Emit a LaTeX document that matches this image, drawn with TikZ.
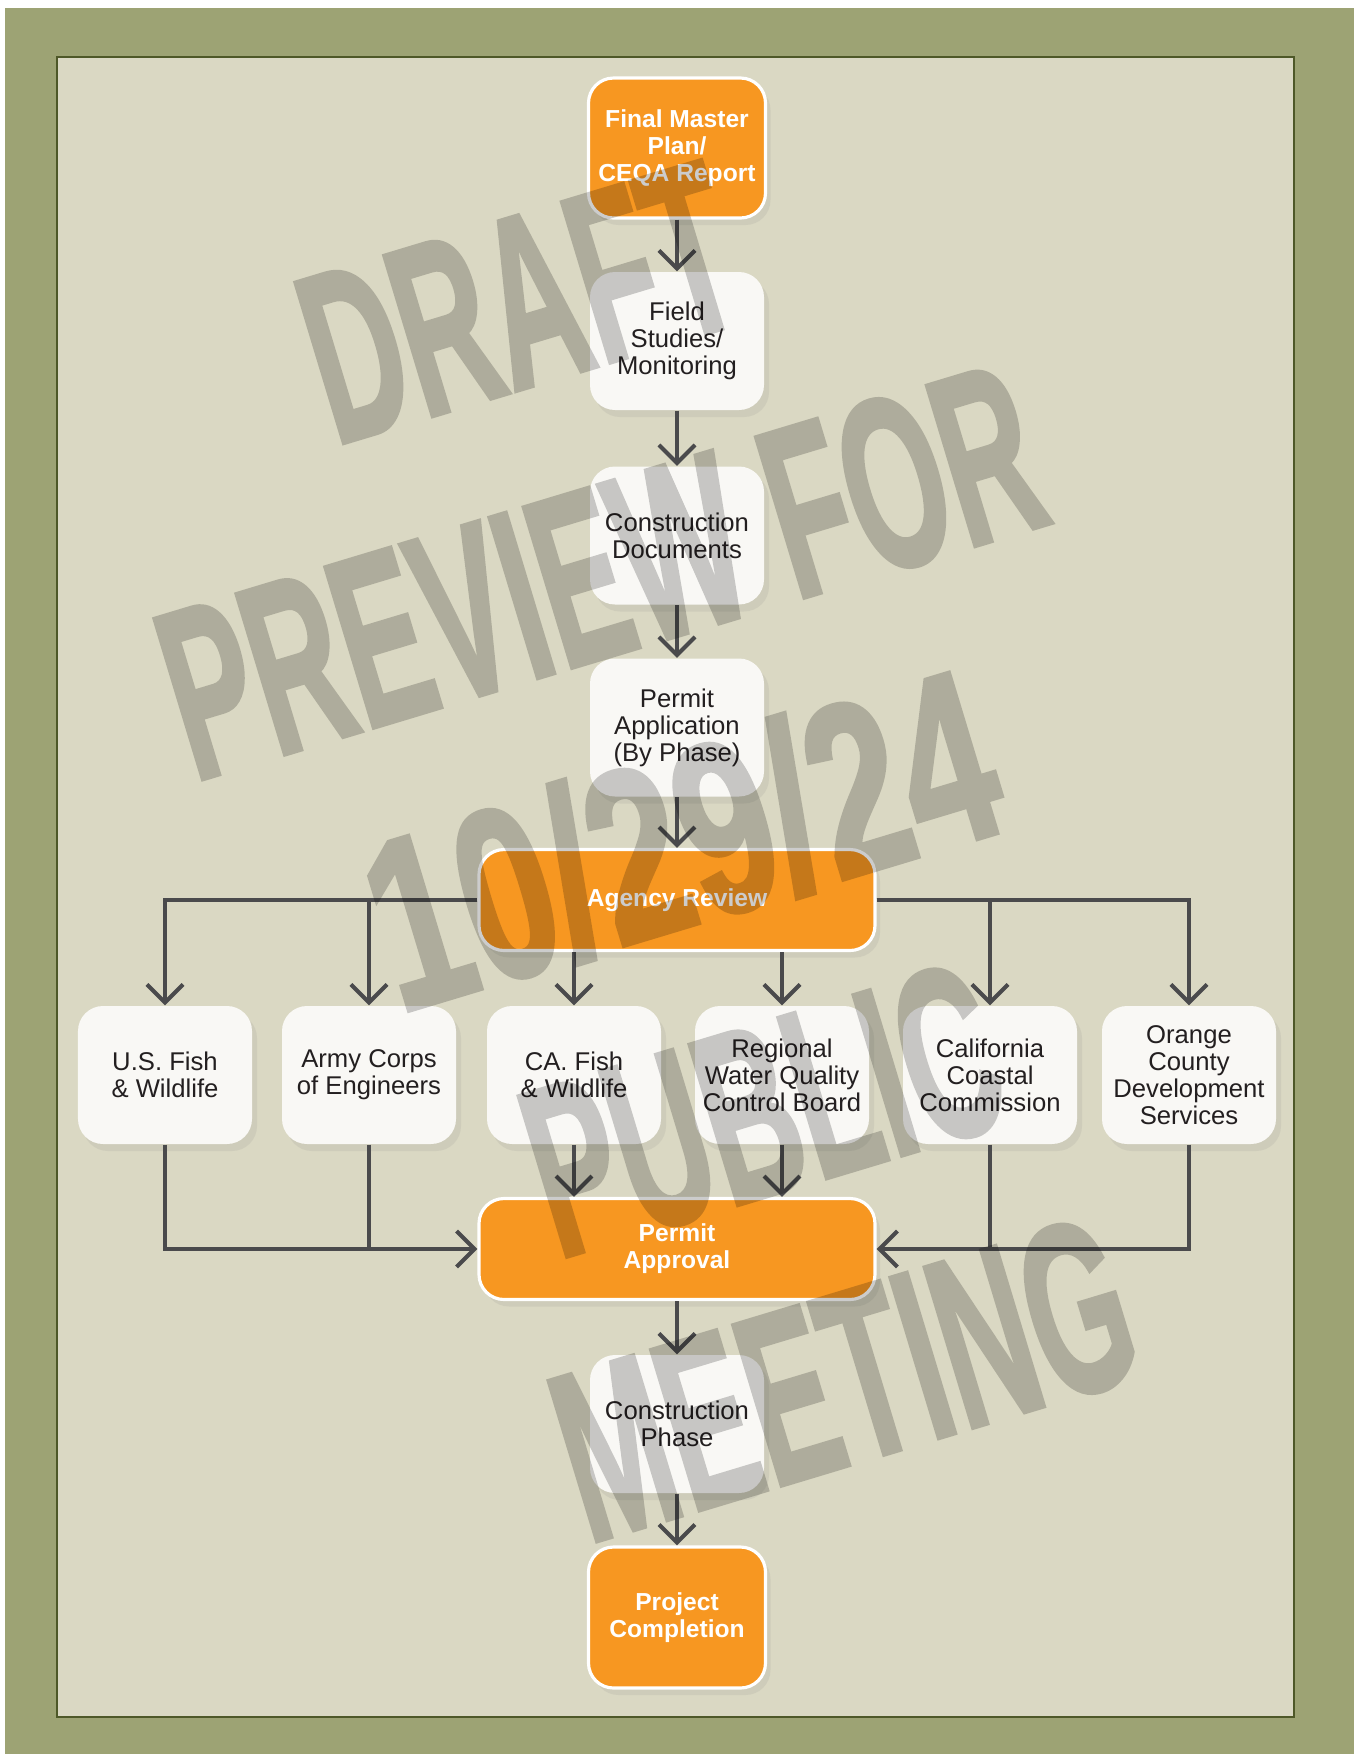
\documentclass[tikz,border=0pt]{standalone}
\usepackage{fontspec}
\setmainfont{Liberation Sans}
\newfontfamily\stampfont[BoldFeatures={FakeBold=2}]{Liberation Sans}
\usetikzlibrary{arrows.meta, calc, positioning, shadows}
\definecolor{oliveframe}{RGB}{157,163,116}
\definecolor{panelbeige}{RGB}{218,216,195}
\definecolor{panelline}{RGB}{78,88,40}
\definecolor{planorange}{RGB}{247,151,33}
\definecolor{boxwhite}{RGB}{249,248,245}
\definecolor{flowgray}{RGB}{74,74,76}
\definecolor{inkdark}{RGB}{35,31,32}
\newcommand{\narrowline}[2][0.53]{\scalebox{#1}[1]{#2}}

\begin{document}
\begin{tikzpicture}[
    stage/.style={rounded corners=2.5mm, inner sep=0pt, align=center,
        minimum width=1.74cm, minimum height=1.38cm,
        drop shadow={shadow xshift=0.5mm, shadow yshift=-0.7mm, opacity=0.13}},
    whitestage/.style={stage, fill=boxwhite, text=inkdark,
        font=\fontsize{7.3}{7.7}\selectfont},
    orangestage/.style={stage, fill=planorange, draw=white, line width=0.9pt,
        text=white, font=\fontsize{7}{7.7}\selectfont\bfseries},
    widestage/.style={orangestage, minimum width=3.96cm, minimum height=1.01cm},
    flow/.style={draw=flowgray, line width=1.15pt,
        -{Straight Barb[length=1.8mm, width=3.6mm]}},
    joint/.style={draw=flowgray, line width=1.15pt}
]
    % Frame and panel
    \fill[white] (0,0) rectangle (13.54,-17.54);
    \fill[oliveframe] (0.05,-0.08) rectangle (13.54,-17.54);
    \draw[panelline, line width=0.6pt, fill=panelbeige] (0.57,-0.57) rectangle (12.94,-17.17);
    \useasboundingbox (0,0) rectangle (13.54,-17.54);

    % Main column
    \node[orangestage, minimum width=1.77cm, minimum height=1.40cm] (master) at (6.77,-1.48) {Final Master\\Plan/\\CEQA Report};
    \node[whitestage] (field) at (6.77,-3.41) {Field\\Studies/\\Monitoring};
    \node[whitestage] (docs) at (6.77,-5.355) {Construction\\Documents};
    \node[whitestage] (application) at (6.77,-7.275) {Permit\\Application\\(By Phase)};
    \node[widestage] (review) at (6.77,-9.00) {Agency Review};

    % Agencies
    \node[whitestage] (usfish) at (1.65,-10.75) {U.S. Fish\\\& Wildlife};
    \node[whitestage] (army) at (3.69,-10.75) {Army Corps\\of Engineers};
    \node[whitestage] (cafish) at (5.74,-10.75) {CA. Fish\\\& Wildlife};
    \node[whitestage] (water) at (7.82,-10.75) {Regional\\Water Quality\\Control Board};
    \node[whitestage] (coastal) at (9.90,-10.75) {California\\Coastal\\Commission};
    \node[whitestage] (county) at (11.89,-10.75) {Orange\\County\\Development\\Services};

    \node[widestage] (approval) at (6.77,-12.49) {Permit\\Approval};
    \node[whitestage] (phase) at (6.77,-14.24) {Construction\\Phase};
    \node[orangestage, minimum width=1.77cm, minimum height=1.41cm] (completion) at (6.77,-16.175) {Project\\Completion};

    % Connectors
    \draw[flow] (master) -- (field);
    \draw[flow] (field) -- (docs);
    \draw[flow] (docs) -- (application);
    \draw[flow] (application) -- (review);
    \draw[flow] (review.west) -| (usfish.north);
    \draw[flow] (review.west) -| (army.north);
    \draw[flow] (review.south -| cafish) -- (cafish.north);
    \draw[flow] (review.south -| water) -- (water.north);
    \draw[flow] (review.east) -| (coastal.north);
    \draw[flow] (review.east) -| (county.north);
    \draw[flow] (cafish.south) -- (cafish.south |- approval.north);
    \draw[flow] (water.south) -- (water.south |- approval.north);
    \draw[flow] (usfish.south) |- (approval.west);
    \draw[joint] (army.south) -- (army.south |- approval.west);
    \draw[flow] (county.south) |- (approval.east);
    \draw[joint] (coastal.south) -- (coastal.south |- approval.east);
    \draw[flow] (approval) -- (phase);
    \draw[flow] (phase) -- (completion);

    % Watermark
    \begin{scope}[transparency group, opacity=0.2]
    \node[rotate=16.8, text=black, align=center,
        font=\fontsize{69}{80}\selectfont\stampfont\bfseries] (stamp) at (6.82,-8.42)
        {\narrowline{DRAFT}\\\narrowline{PREVIEW FOR}\\\narrowline[0.68]{10/29/24}\\\narrowline{PUBLIC}\\\narrowline{MEETING}};
    \end{scope}
\end{tikzpicture}
\end{document}
